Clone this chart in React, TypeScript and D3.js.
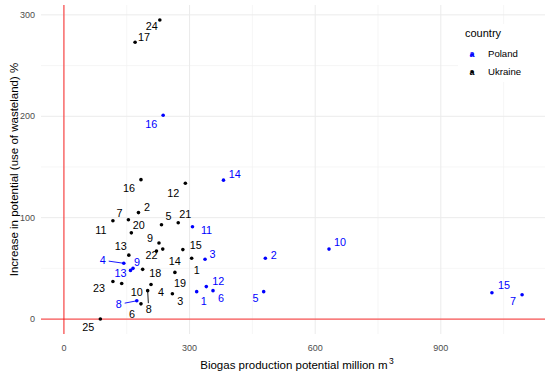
import React, { useEffect, useRef } from 'react';
import * as d3 from 'd3';

// Ukraine, regions 1..25
const ukraineIds = [1, 2, 3, 4, 5, 6, 7, 8, 9, 10, 11, 12, 13, 14, 15, 16, 17, 18, 19, 20, 21, 22, 23, 24, 25];
const ukraineBiogas = [305, 178, 259, 208, 233, 184, 154, 200, 227, 138, 117, 290, 155, 236, 284, 184, 170, 188, 265, 161, 273, 221, 117, 229, 87];
const ukraineIncrease = [60, 105, 25, 34, 93, 15, 98, 28, 75, 35, 97, 134, 63, 69, 68.5, 137.5, 273, 49, 46, 85, 95, 67, 37, 295, 0];

// Poland, regions 1..16
const polandIds = [1, 2, 3, 4, 5, 6, 7, 8, 9, 10, 11, 12, 13, 14, 15, 16];
const polandBiogas = [317, 481, 337, 143, 477, 356, 1094, 174, 165, 633, 307, 340, 159, 381, 1022, 237];
const polandIncrease = [27, 60, 59, 55, 27, 28, 24, 18, 50, 69, 91, 32, 48, 137, 26, 201];

const countries = ['Poland', 'Ukraine'];
const xTicks = [0, 300, 600, 900];
const xMinor = [150, 450, 750, 1050];
const yTicks = [0, 100, 200, 300];
const yMinor = [50, 150, 250];

// label placement (pixel nudges, like ggrepel produced)
const nudge: Record<string, [number, number]> = {
  U1: [5, 12], U2: [8.6, -5], U3: [8, 7], U4: [10, 8], U5: [7, -9], U6: [-9, 10.5], U7: [-9, -7],
  U8: [1, 18.5], U9: [-9, -5], U10: [15, 8.5], U11: [-12, 9], U12: [-12, 10], U13: [-8, -9.5],
  U14: [12, 12], U15: [13, -4], U16: [-12, 8], U17: [9, -5], U18: [12.5, 4], U19: [5, 11],
  U20: [7.5, -8], U21: [7, -9], U22: [-5, 3.5], U23: [-14, 7], U24: [-8, 6], U25: [-12, 8],
  P1: [7, 9.6], P2: [8.5, -3.6], P3: [7.4, -5], P4: [-21, -3], P5: [-8.3, 6], P6: [8, 7.7],
  P7: [-9, 6.3], P8: [-18, 3.5], P9: [4, -6], P10: [11, -7], P11: [14, 3.5], P12: [12, -5.5],
  P13: [-10, 3], P14: [11.3, -6], P15: [12, -7.7], P16: [-12, 9],
};
const leaders = ['U8', 'P4', 'P8', 'P9'];

const App = () => {
  const ref = useRef<SVGSVGElement>(null);

  useEffect(() => {
    document.body.style.margin = '0';
    const width = 550, height = 373;
    const panel = { left: 41, right: 545, top: 5, bottom: 334 };
    const font = '"Liberation Sans", Arial, sans-serif';

    const points = [
      ...polandIds.map((id, i) => ({ key: 'P' + id, id, country: 'Poland', x: polandBiogas[i], y: polandIncrease[i] })),
      ...ukraineIds.map((id, i) => ({ key: 'U' + id, id, country: 'Ukraine', x: ukraineBiogas[i], y: ukraineIncrease[i] })),
    ];

    const xMax = d3.max(points, d => d.x) as number;
    const yMax = d3.max(points, d => d.y) as number;
    const xScale = d3.scaleLinear().domain([-0.05 * xMax, xMax * 1.05]).range([panel.left, panel.right]);
    const yScale = d3.scaleLinear().domain([-0.05 * yMax, yMax * 1.05]).range([panel.bottom, panel.top]);
    const color = d3.scaleOrdinal<string, string>().domain(countries).range(['#0000ff', '#000000']);

    const svg = d3.select(ref.current).attr('width', width).attr('height', height).style('display', 'block');
    svg.selectAll('*').remove();
    svg.append('rect').attr('width', width).attr('height', height).attr('fill', '#fff');

    const grid = svg.append('g');
    grid.selectAll('.xminor').data(xMinor).join('line').attr('x1', d => xScale(d)).attr('x2', d => xScale(d))
      .attr('y1', panel.top).attr('y2', panel.bottom).attr('stroke', '#f2f2f2').attr('stroke-width', 0.7);
    grid.selectAll('.yminor').data(yMinor).join('line').attr('y1', d => yScale(d)).attr('y2', d => yScale(d))
      .attr('x1', panel.left).attr('x2', panel.right).attr('stroke', '#f2f2f2').attr('stroke-width', 0.7);
    grid.selectAll('.xmajor').data(xTicks).join('line').attr('x1', d => xScale(d)).attr('x2', d => xScale(d))
      .attr('y1', panel.top).attr('y2', panel.bottom).attr('stroke', '#ebebeb').attr('stroke-width', 1);
    grid.selectAll('.ymajor').data(yTicks).join('line').attr('y1', d => yScale(d)).attr('y2', d => yScale(d))
      .attr('x1', panel.left).attr('x2', panel.right).attr('stroke', '#ebebeb').attr('stroke-width', 1);

    // tick labels
    svg.append('g').selectAll('text').data(xTicks).join('text')
      .attr('x', d => xScale(d)).attr('y', 350.5).attr('text-anchor', 'middle')
      .style('font-family', font).style('font-size', '9px').attr('fill', '#4d4d4d').text(d => d);
    svg.append('g').selectAll('text').data(yTicks).join('text')
      .attr('x', 35).attr('y', d => yScale(d)).attr('dy', '0.35em').attr('text-anchor', 'end')
      .style('font-family', font).style('font-size', '9px').attr('fill', '#4d4d4d').text(d => d);

    // reference lines at zero
    svg.append('line').attr('x1', panel.left).attr('x2', panel.right).attr('y1', yScale(0)).attr('y2', yScale(0))
      .attr('stroke', '#ff0000').attr('stroke-opacity', 0.65).attr('stroke-width', 1.3);
    svg.append('line').attr('x1', xScale(0)).attr('x2', xScale(0)).attr('y1', panel.top).attr('y2', panel.bottom)
      .attr('stroke', '#ff0000').attr('stroke-opacity', 0.65).attr('stroke-width', 1.3);

    // leader segments
    const lead = points.filter(d => leaders.includes(d.key));
    svg.append('g').selectAll('line').data(lead).join('line')
      .each(function (d) {
        const px = xScale(d.x), py = yScale(d.y);
        const [dx, dy] = nudge[d.key];
        const len = Math.hypot(dx, dy);
        const k = Math.max(0, (len - 6) / len);
        d3.select(this).attr('x1', px).attr('y1', py).attr('x2', px + dx * k).attr('y2', py + dy * k);
      })
      .attr('stroke', d => color(d.country)).attr('stroke-width', 0.9);

    svg.append('g').selectAll('circle').data(points).join('circle')
      .attr('cx', d => xScale(d.x)).attr('cy', d => yScale(d.y)).attr('r', 1.8).attr('fill', d => color(d.country));

    svg.append('g').selectAll('text').data(points).join('text')
      .attr('x', d => xScale(d.x) + nudge[d.key][0]).attr('y', d => yScale(d.y) + nudge[d.key][1])
      .attr('dy', '0.36em').attr('text-anchor', 'middle')
      .style('font-family', font).style('font-size', '10.8px').attr('fill', d => color(d.country))
      .text(d => d.id);

    // axis titles
    const xt = svg.append('text').attr('x', (panel.left + panel.right) / 2 + 4).attr('y', 368.5).attr('text-anchor', 'middle')
      .style('font-family', font).style('font-size', '11.5px').attr('fill', '#000');
    xt.append('tspan').text('Biogas production potential million m');
    xt.append('tspan').attr('dx', 1.5).attr('dy', -5).style('font-size', '8.5px').text('3');

    svg.append('text').attr('transform', `translate(17.5, ${(panel.top + panel.bottom) / 2}) rotate(-90)`)
      .attr('text-anchor', 'middle').style('font-family', font).style('font-size', '11.5px').attr('fill', '#000')
      .text('Increase in potential (use of wasteland) %');

    // legend
    const lg = svg.append('g');
    lg.append('rect').attr('x', 458).attr('y', 24).attr('width', 92).attr('height', 58).attr('fill', '#fff');
    lg.append('text').attr('x', 465).attr('y', 33).attr('dy', '0.35em').style('font-family', font).style('font-size', '11px')
      .attr('fill', '#000').text('country');
    const items = lg.selectAll('.item').data(countries).join('g').attr('transform', (d, i) => `translate(0, ${54 + i * 17.5})`);
    items.append('text').attr('x', 472).attr('dy', '0.35em').attr('text-anchor', 'middle').style('font-family', font)
      .style('font-size', '9px').style('font-weight', 'bold').attr('fill', d => color(d)).text('a');
    items.append('circle').attr('cx', 472).attr('cy', 0.5).attr('r', 1.6).attr('fill', d => color(d));
    items.append('text').attr('x', 488).attr('dy', '0.35em').style('font-family', font).style('font-size', '9.6px')
      .attr('fill', '#000').text(d => d);
  }, []);

  return <svg ref={ref}></svg>;
};

export default App;
